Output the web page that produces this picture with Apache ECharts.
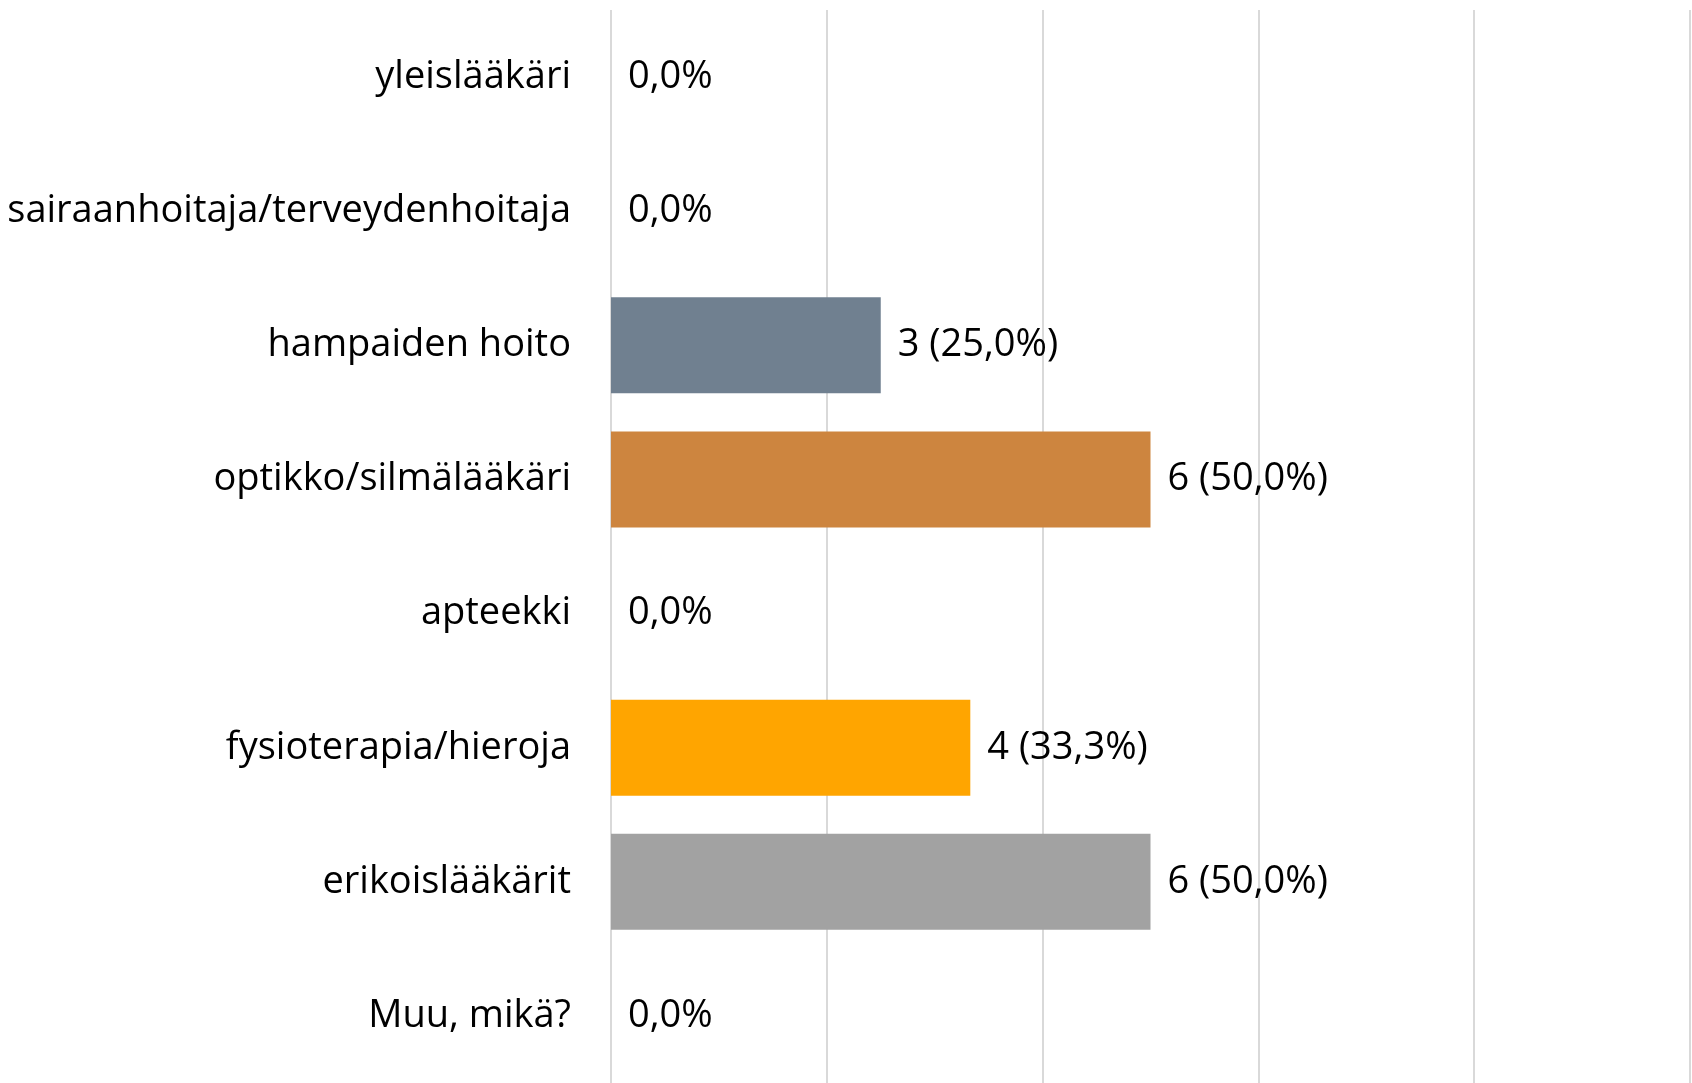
<!DOCTYPE html>
<html>
<head>
<meta charset="utf-8">
<script src="https://cdn.jsdelivr.net/npm/echarts@6/dist/echarts.min.js"></script>
<style>
  html, body { margin: 0; padding: 0; background: #fff; }
  #chart { width: 1692px; height: 1083px; }
</style>
</head>
<body>
<div id="chart"></div>
<script>
// kategoriat ylhäältä alas
const categories = [
  'yleislääkäri',
  'sairaanhoitaja/terveydenhoitaja',
  'hampaiden hoito',
  'optikko/silmälääkäri',
  'apteekki',
  'fysioterapia/hieroja',
  'erikoislääkärit',
  'Muu, mikä?'
];
const counts = [0, 0, 3, 6, 0, 4, 6, 0];
const percents = [0, 0, 25.0, 50.0, 0, 33.3, 50.0, 0];
const xTicks = [0, 20, 40, 60, 80, 100];

const barColors = ['#4472C4', '#ED7D31', '#708090', '#CD853F', '#5B9BD5', '#FFA500', '#A2A2A2', '#70AD47'];
const font = '"Open Sans", "Noto Sans", sans-serif';

let myChart = echarts.init(document.getElementById('chart'));

let option = {
  animation: false,
  grid: { left: 611, right: 2, top: 10, height: 1076 },
  xAxis: {
    type: 'value',
    min: xTicks[0],
    max: xTicks[xTicks.length - 1],
    interval: xTicks[1] - xTicks[0],
    axisLabel: { show: false },
    axisLine: { show: false },
    axisTick: { show: false },
    splitLine: { show: true, lineStyle: { color: '#D9D9D9', width: 2 } }
  },
  yAxis: {
    type: 'category',
    inverse: true,
    data: categories,
    axisLine: { show: false },
    axisTick: { show: false },
    axisLabel: { color: '#000', fontSize: 38, fontFamily: font, margin: 40, padding: [6, 0, 0, 0] }
  },
  series: [{
    type: 'bar',
    barWidth: 96,
    data: percents.map((v, i) => ({ value: v, itemStyle: { color: barColors[i] } })),
    label: {
      show: true,
      position: 'right',
      distance: 17,
      color: '#000',
      fontSize: 38,
      fontFamily: font,
      padding: [8, 0, 0, 0],
      formatter: function (p) {
        let n = counts[p.dataIndex];
        let pct = percents[p.dataIndex].toFixed(1).replace('.', ',') + '%';
        return n === 0 ? pct : n + ' (' + pct + ')';
      }
    }
  }]
};
myChart.setOption(option);
</script>
</body>
</html>
